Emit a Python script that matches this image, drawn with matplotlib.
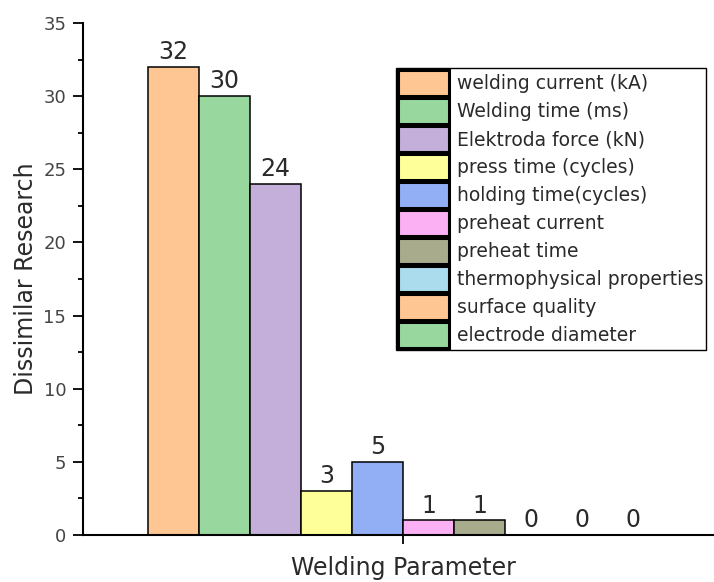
import matplotlib
matplotlib.use('Agg')
import matplotlib.pyplot as plt
from matplotlib.patches import Patch
import numpy as np

# --- data ---
params = ['welding current (kA)', 'Welding time (ms)', 'Elektroda force (kN)',
          'press time (cycles)', 'holding time(cycles)', 'preheat current',
          'preheat time', 'thermophysical properties', 'surface quality',
          'electrode diameter']
counts = [32, 30, 24, 3, 5, 1, 1, 0, 0, 0]
colors = ['#FDC692', '#98D89E', '#C4AEDA', '#FFFF99', '#92AEF5',
          '#FBB0F3', '#A8AB8C', '#AADCEE', '#FDC692', '#98D89E']

plt.rcParams['font.family'] = ['DejaVu Sans']
txt = '#2a2a2a'

W, H = 714, 582
fig = plt.figure(figsize=(W / 100, H / 100), dpi=100)
ax = fig.add_axes([83 / W, (H - 535) / H, (723 - 83) / W, (535 - 23) / H])

x = np.arange(len(counts))
bars = ax.bar(x, counts, width=1.0, color=colors, edgecolor='black', linewidth=1.1)
ax.bar_label(bars, labels=[str(c) for c in counts], padding=2, fontsize=17, color=txt)

ax.set_xlim(-1.77, 10.77)
ax.set_ylim(0, 35)
ax.set_yticks(np.arange(0, 36, 5))
ax.set_yticks(np.arange(2.5, 35, 5), minor=True)
ax.set_xticks([4.5])
ax.set_xticklabels([''])

for s in ['top', 'right']:
    ax.spines[s].set_visible(False)
for s in ['left', 'bottom']:
    ax.spines[s].set_linewidth(1.5)

ax.tick_params(axis='y', which='major', direction='out', length=7, width=1.3,
               labelsize=13, labelcolor='#444444', pad=5)
ax.tick_params(axis='y', which='minor', direction='out', length=3.5, width=1.3)
ax.tick_params(axis='x', which='major', direction='out', length=6.5, width=1.3)

ax.set_ylabel('Dissimilar Research', fontsize=17, color=txt, labelpad=4)
ax.set_xlabel('Welding Parameter', fontsize=17, color=txt, labelpad=5)

# --- legend ---
handles = [Patch(facecolor=c, edgecolor='black', linewidth=2.2) for c in colors]
leg = ax.legend(handles, params, loc='upper left',
                bbox_to_anchor=(396 / W, 1 - 68 / H), bbox_transform=fig.transFigure,
                fontsize=13.5, handlelength=2.7, handleheight=1.76,
                labelspacing=0.1, handletextpad=0.45, borderpad=0.12,
                borderaxespad=0, fancybox=False, framealpha=1,
                edgecolor='black', labelcolor=txt)
leg.get_frame().set_linewidth(1.0)

plt.savefig('out.png', dpi=100)
